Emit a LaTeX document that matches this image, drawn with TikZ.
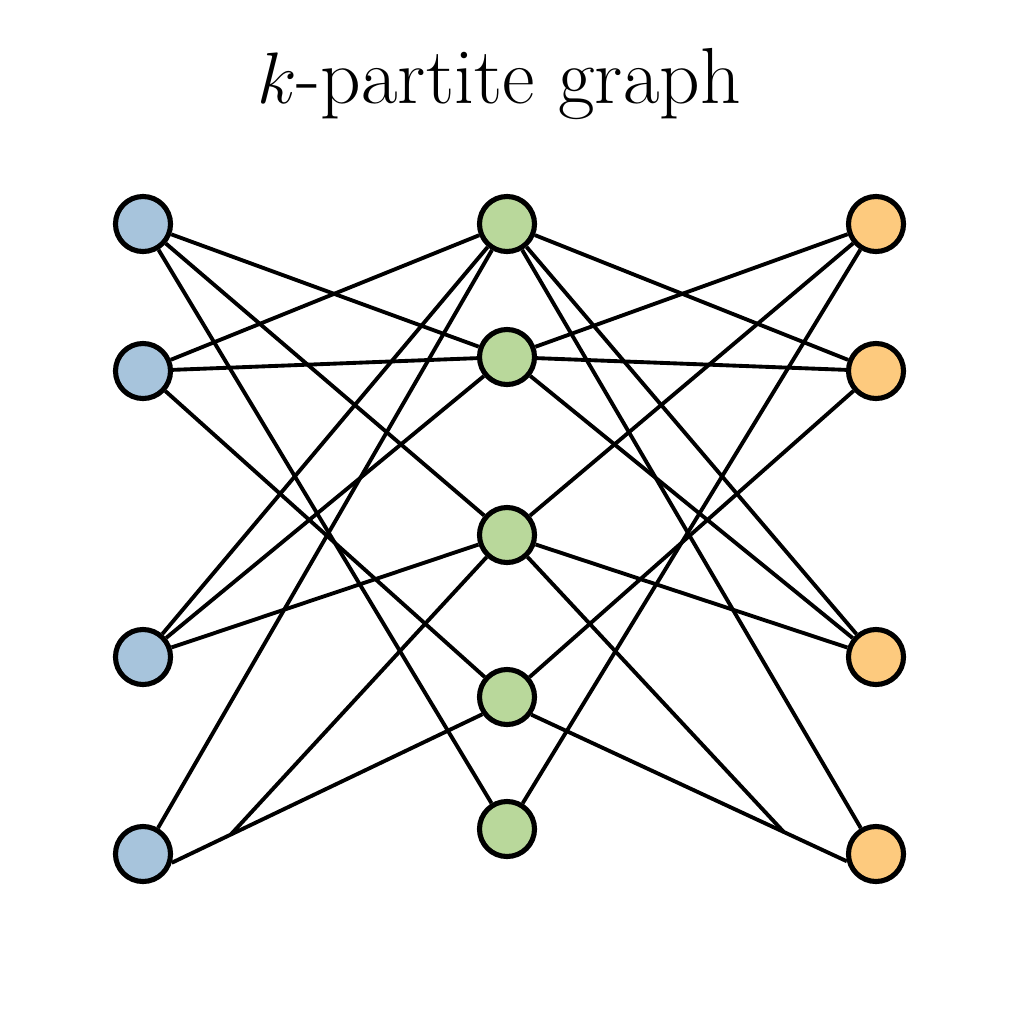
\documentclass[tikz,border=0pt]{standalone}
\usetikzlibrary{backgrounds, calc}
\definecolor{partBlue}{RGB}{167,196,220}
\definecolor{partGreen}{RGB}{185,216,155}
\definecolor{partOrange}{RGB}{253,202,126}
\tikzset{KPartite/.style={
    x = 0.01cm, y = -0.01cm,
    vertex/.style = {circle, draw, line width=1.45pt, minimum size=5.5mm, inner sep=0pt},
    setA/.style = {vertex, fill=partBlue},
    setB/.style = {vertex, fill=partGreen},
    setC/.style = {vertex, fill=partOrange},
    link/.style = {line width=1.1pt}
}}

\begin{document}
\begin{tikzpicture}[KPartite]
    \useasboundingbox (0,0) rectangle (1024,1024);

    \node [anchor=base, font=\fontsize{22.6}{27}\selectfont] (title) at (499,103) {$k$-partite graph};

    % left part
    \node [setA] (L1) at (143,224) {};
    \node [setA] (L2) at (143,371) {};
    \node [setA] (L3) at (143,657) {};
    \node [setA] (L4) at (143,854) {};
    % middle part
    \node [setB] (M1) at (507,224) {};
    \node [setB] (M2) at (507,357) {};
    \node [setB] (M3) at (507,535) {};
    \node [setB] (M4) at (507,697) {};
    \node [setB] (M5) at (507,829) {};
    % right part
    \node [setC] (R1) at (876,224) {};
    \node [setC] (R2) at (876,371) {};
    \node [setC] (R3) at (876,657) {};
    \node [setC] (R4) at (876,854) {};

    \coordinate (jl) at ($(L4.-17)!0.19!(M4.-145)$);
    \coordinate (jr) at ($(M4.-36)!0.80!(R4.-166)$);

    \begin{scope}[on background layer]
    \draw [link]
    (L1) edge (M2) (L1) edge (M3) (L1) edge (M5)
    (L2) edge (M1) (L2) edge (M2) (L2) edge (M4)
    (L3) edge (M1) (L3) edge (M2) (L3) edge (M3)
    (L4) edge (M1) (L4.-17) edge (M4.-145) (M3) edge (jl)
    (M1) edge (R2) (M1) edge (R3) (M1) edge (R4)
    (M2) edge (R1) (M2) edge (R2) (M2) edge (R3)
    (M3) edge (R1) (M3) edge (R3) (M3) edge (jr)
    (M4) edge (R2) (M4.-36) edge (R4.-166)
    (M5) edge (R1);
    \end{scope}
\end{tikzpicture}
\end{document}
